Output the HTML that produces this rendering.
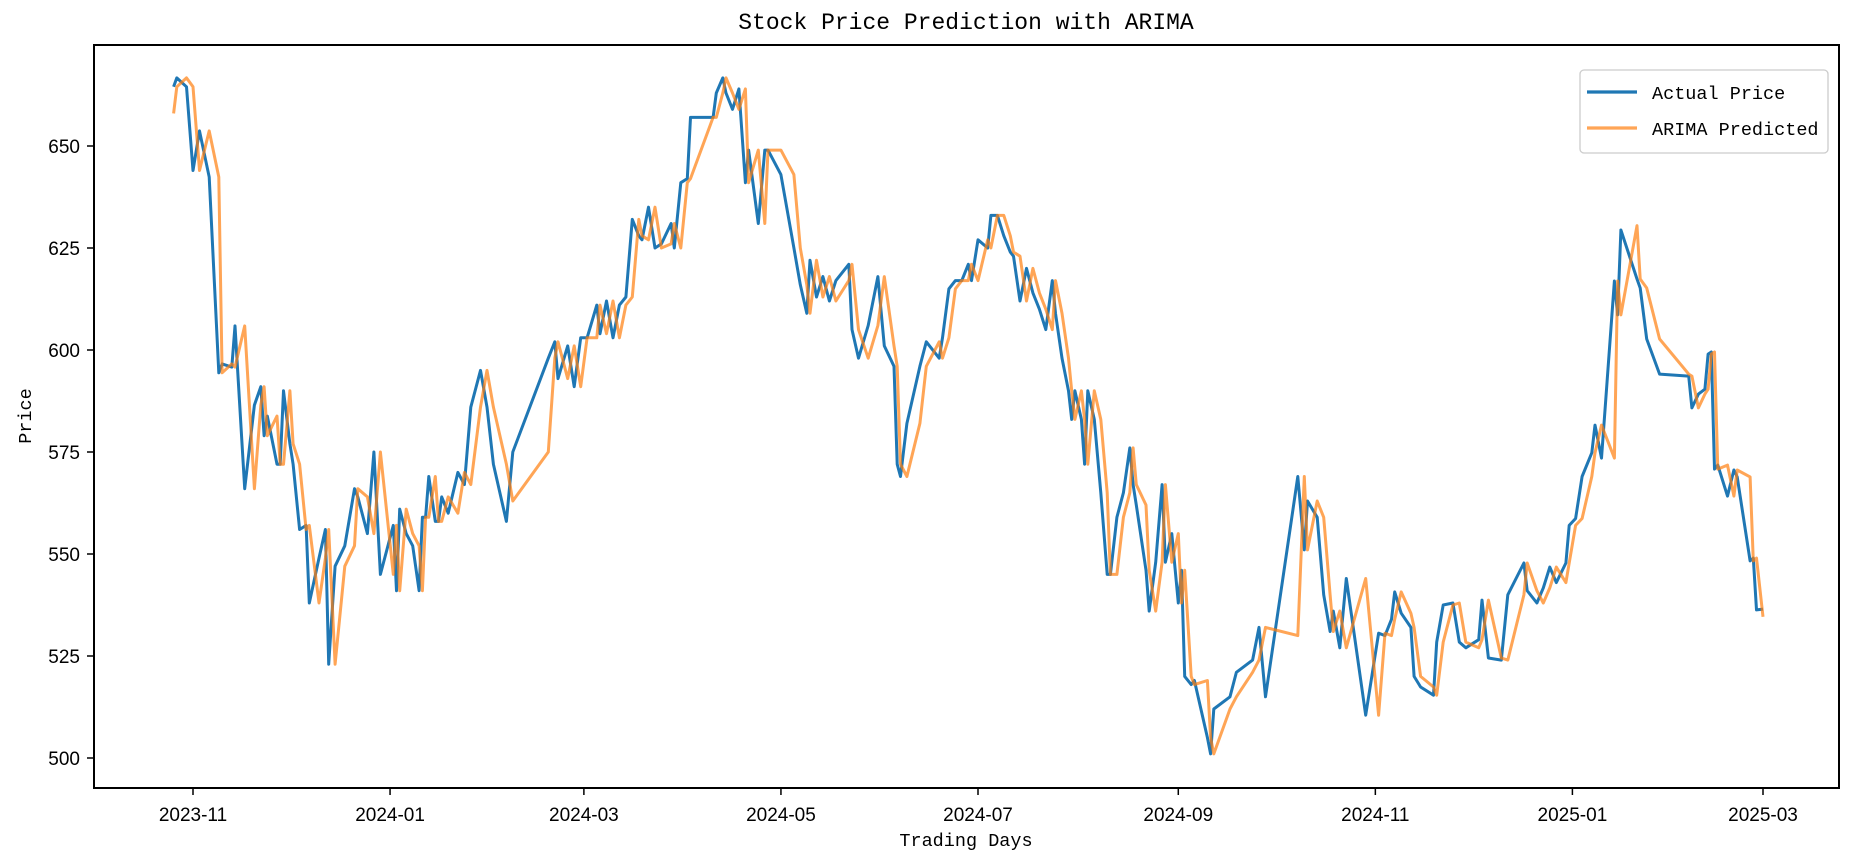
<!DOCTYPE html>
<html><head><meta charset="utf-8"><style>
html,body{margin:0;padding:0;background:#fff;}
svg{display:block;}
.tk{font-family:"Liberation Sans",sans-serif;font-size:19px;fill:#000;}
.mono{font-family:"Liberation Mono","WenQuanYi Zen Hei",monospace;fill:#000;}
</style></head><body>
<svg id="chart" width="1857" height="861" viewBox="0 0 1857 861" xmlns="http://www.w3.org/2000/svg">
<rect x="0" y="0" width="1857" height="861" fill="#fff"/>
<text class="mono" x="966" y="29" font-size="23" text-anchor="middle">Stock Price Prediction with ARIMA</text>
<g id="series"></g>
<g id="axes"></g>
<rect x="94" y="45" width="1745" height="743" fill="none" stroke="#000" stroke-width="2"/>
<text class="mono" x="966" y="846" font-size="18.5" text-anchor="middle">Trading Days</text>
<text class="mono" x="0" y="0" font-size="18.5" text-anchor="middle" transform="translate(31,416) rotate(-90)">Price</text>
<g>
<rect x="1580" y="70" width="248" height="83" rx="4" fill="#fff" fill-opacity="0.8" stroke="#cccccc" stroke-width="1.3"/>
<line x1="1587" y1="92" x2="1637" y2="92" stroke="#1f77b4" stroke-width="3.2"/>
<text class="mono" x="1652" y="99" font-size="18.5">Actual Price</text>
<line x1="1587" y1="128" x2="1637" y2="128" stroke="#ff7f0e" stroke-opacity="0.7" stroke-width="3.2"/>
<text class="mono" x="1652" y="135" font-size="18.5">ARIMA Predicted</text>
</g>
</svg>
<script>
// days since 2023-11-01
const days = [-6,-5,-2,0,2,5,8,9,12,13,16,19,21,22,23,26,27,28,30,31,33,35,36,39,41,42,44,47,50,51,54,56,58,62,63,64,66,68,70,71,72,73,75,76,77,79,82,84,86,89,91,93,97,99,110,112,113,116,118,120,122,125,126,128,130,132,134,136,138,139,141,143,145,148,149,151,153,154,161,162,164,165,167,169,171,172,175,177,178,182,186,188,190,191,193,195,197,199,203,204,206,209,212,214,217,218,219,221,225,227,231,232,234,236,238,240,241,243,246,247,249,251,253,254,256,258,260,262,264,266,267,269,271,272,273,275,276,277,279,281,283,284,286,288,290,291,292,295,296,298,300,301,303,305,306,307,309,310,314,315,316,321,323,328,330,332,342,344,345,348,350,352,353,355,357,363,367,369,371,372,374,377,378,380,384,385,387,390,392,394,398,399,401,405,407,412,413,416,418,420,422,425,426,428,430,433,434,436,440,441,442,447,448,450,454,463,464,466,468,469,470,471,472,475,477,478,482,483,484,486];
const actualPrice = [664.5,666.7,664.5,644,653.7,642.4,594.4,596.6,595.8,605.9,566,586.5,591,579,583.8,572,572,590,577,572,556,557,538,549,556,523,547,552,566,564,555,575,545,557,541,561,555,552,541,559,559,569,558,558,564,560,570,567,586,595,586,572,558,575,598,602,593,601,591,603,603,611,604,612,603,611,613,632,628,627,635,625,626,631,625,641,642,657,657,663,666.7,663,659,664,641,649,631,649,649,643,625,616,609,622,613,618,612,617,621,605,598,606,618,601,596,572,569,582,596,602,598,603,615,617,617,621,617,627,625,633,633,628,624,623,612,620,614,610,605,617,609,598,590,583,590,583,572,590,583,565,545,545,559,565,576,567,562,546,536,548,567,548,555,538,546,520,518,519,505,501,512,515,521,524,532,515,569,551,563,559,540,531,536,527,544,510.5,530.6,530,534,540.7,535.5,532,520,517.4,515.4,528.4,537.5,538,528.4,527,529,538.7,524.5,524,540,547.8,541,538,541.7,546.8,543,547.8,557,558.7,569,574.8,581.6,573.5,616.9,608.6,629.4,617.4,615.2,602.7,594.1,593.6,585.8,589.2,590.4,599,599.5,570.8,571.8,564.2,570.6,568.9,548.3,549,536.3,536.5];
const predictedPrice = [658,664.5,666.7,664.5,644,653.7,642.4,594.4,596.6,595.8,605.9,566,586.5,591,579,583.8,572,572,590,577,572,556,557,538,549,556,523,547,552,566,564,555,575,545,557,541,561,555,552,541,559,559,569,558,558,564,560,570,567,586,595,586,572,563,575,598,602,593,601,591,603,603,611,604,612,603,611,613,632,628,627,635,625,626,631,625,641,642,657,657,663,666.7,663,659,664,641,649,631,649,649,643,625,616,609,622,613,618,612,617,621,605,598,606,618,601,596,572,569,582,596,602,598,603,615,617,617,621,617,627,625,633,633,628,624,623,612,620,614,610,605,617,609,598,590,583,590,583,572,590,583,565,545,545,559,565,576,567,562,546,536,548,567,548,555,538,546,520,518,519,505,501,512,515,521,524,532,530,569,551,563,559,540,531,536,527,544,510.5,530.6,530,534,540.7,535.5,532,520,517.4,515.4,528.4,537.5,538,528.4,527,529,538.7,524.5,524,540,547.8,541,538,541.7,546.8,543,547.8,557,558.7,569,574.8,581.6,573.5,616.9,608.6,630.5,617.4,615.2,602.7,594.1,593.6,585.8,589.2,590.4,599,599.5,570.8,571.8,564.2,570.6,568.9,548.3,549,534.6];
const yTicks = [500,525,550,575,600,625,650];
const xTickDays = [0,61,121,182,243,305,366,427,486];
const xTickLabels = ["2023-11","2024-01","2024-03","2024-05","2024-07","2024-09","2024-11","2025-01","2025-03"];

const NS = "http://www.w3.org/2000/svg";
function xScale(d){ return 193 + d * (1763 - 193) / 486; }
function yScale(p){ return 758 - (p - 500) * 4.08; }

const series = document.getElementById('series');
const axes = document.getElementById('axes');

function addLine(vals, color, opacity, name){
  const n = Math.min(days.length, vals.length);
  const pts = [];
  for (let i = 0; i < n; i++) pts.push(xScale(days[i]).toFixed(1)+','+yScale(vals[i]).toFixed(1));
  const pl = document.createElementNS(NS,'polyline');
  pl.setAttribute('points', pts.join(' '));
  pl.setAttribute('fill','none');
  pl.setAttribute('stroke', color);
  pl.setAttribute('stroke-opacity', opacity);
  pl.setAttribute('stroke-width','3');
  pl.setAttribute('stroke-linejoin','round');
  
  
  series.appendChild(pl);
}
addLine(actualPrice, '#1f77b4', 1, 'actual-price-line');
addLine(predictedPrice, '#ff7f0e', 0.7, 'arima-predicted-line');

yTicks.forEach(v=>{
  const y = yScale(v);
  const t = document.createElementNS(NS,'line');
  t.setAttribute('x1',87); t.setAttribute('x2',94);
  t.setAttribute('y1',y); t.setAttribute('y2',y);
  t.setAttribute('stroke','#000'); t.setAttribute('stroke-width','1.5');
  
  
  axes.appendChild(t);
  const tx = document.createElementNS(NS,'text');
  tx.setAttribute('x',80); tx.setAttribute('y',y+7);
  tx.setAttribute('text-anchor','end');
  tx.setAttribute('class','tk');
  tx.textContent = v;
  
  
  axes.appendChild(tx);
});
xTickDays.forEach((d,i)=>{
  const x = xScale(d);
  const t = document.createElementNS(NS,'line');
  t.setAttribute('x1',x); t.setAttribute('x2',x);
  t.setAttribute('y1',788); t.setAttribute('y2',795);
  t.setAttribute('stroke','#000'); t.setAttribute('stroke-width','1.5');
  
  
  axes.appendChild(t);
  const tx = document.createElementNS(NS,'text');
  tx.setAttribute('x',x); tx.setAttribute('y',821);
  tx.setAttribute('text-anchor','middle');
  tx.setAttribute('class','tk');
  tx.textContent = xTickLabels[i];
  
  
  axes.appendChild(tx);
});
</script>
</body></html>
